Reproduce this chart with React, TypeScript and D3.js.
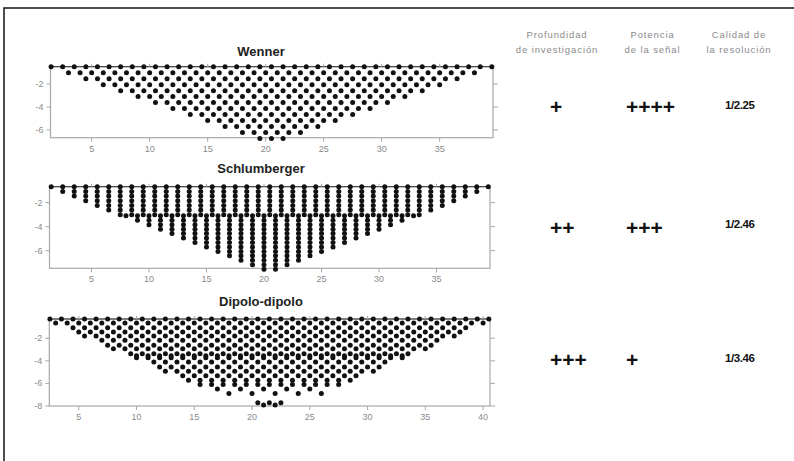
import React from "react";
import * as d3 from "d3";

// ---- Data ----
// Each level: [depth, first x, last x, step]
const wennerLevels: number[][] = [
  [-0.5, 1.5, 39.5, 1],
  [-1.02, 3.0, 38.0, 1],
  [-1.54, 4.5, 36.5, 1],
  [-2.06, 6.0, 35.0, 1],
  [-2.58, 7.5, 33.5, 1],
  [-3.1, 9.0, 32.0, 1],
  [-3.62, 10.5, 30.5, 1],
  [-4.14, 12.0, 29.0, 1],
  [-4.66, 13.5, 27.5, 1],
  [-5.18, 15.0, 26.0, 1],
  [-5.7, 16.5, 24.5, 1],
  [-6.22, 18.0, 23.0, 1],
  [-6.74, 19.5, 21.5, 1],
];

const schlumbergerShallow: number[][] = [
  [-0.67, 1.5, 39.5, 1],
  [-1.06, 2.5, 38.5, 1],
  [-1.45, 3.5, 37.5, 1],
  [-1.84, 4.5, 36.5, 1],
  [-2.23, 5.5, 35.5, 1],
  [-2.62, 6.5, 34.5, 1],
  [-3.01, 7.5, 33.5, 1],
];

const schlumbergerDeep: number[][] = [
  [-3.1, 8, 33, 1],
  [-3.47, 9, 32, 1],
  [-3.84, 10, 31, 1],
  [-4.21, 11, 30, 1],
  [-4.58, 12, 29, 1],
  [-4.95, 13, 28, 1],
  [-5.32, 14, 27, 1],
  [-5.69, 15, 26, 1],
  [-6.06, 16, 25, 1],
  [-6.43, 17, 24, 1],
  [-6.8, 18, 23, 1],
  [-7.17, 19, 22, 1],
  [-7.54, 20, 21, 1],
];

const dipoleLevels: number[][] = [
  [-0.3, 2.5, 40.5, 1],
  [-0.66, 3, 40, 1],
  [-1.07, 4.5, 38.5, 1],
  [-1.45, 5, 38, 1],
  [-1.81, 5.5, 37.5, 1],
  [-2.19, 7, 36, 1],
  [-2.63, 7.5, 35.5, 1],
  [-2.93, 8, 35, 1],
  [-3.37, 9.5, 33.5, 1],
  [-3.55, 10, 33, 1],
  [-3.74, 10, 33, 1],
  [-4.1, 11.5, 31.5, 1],
  [-4.54, 12, 31, 1],
  [-4.92, 12.5, 30.5, 1],
  [-5.33, 14, 29, 1],
  [-5.71, 14.5, 28.5, 1],
  [-6.1, 15.5, 27.5, 1],
  [-6.5, 17, 25, 2],
  [-6.89, 18, 26, 2],
  [-7.72, 20.5, 22.5, 1],
  [-7.92, 21, 22, 1],
];

const xTicksWS = [5, 10, 15, 20, 25, 30, 35];
const xTicksD = [5, 10, 15, 20, 25, 30, 35, 40];
const yTicksWS = [-2, -4, -6];
const yTicksD = [-2, -4, -6, -8];

const headers = [
  ["Profundidad", "de investigación"],
  ["Potencia", "de la señal"],
  ["Calidad de", "la resolución"],
];
const depthRatings = ["+", "++", "+++"];
const signalRatings = ["++++", "+++", "+"];
const resolution = ["1/2.25", "1/2.46", "1/3.46"];

const FONT = "Liberation Sans, Arial, Helvetica, sans-serif";

type PanelProps = {
  title: string;
  titleY: number;
  x0: number;
  x1: number;
  y0: number;
  y1: number;
  xDomain: [number, number];
  yDomain: [number, number];
  xTicks: number[];
  yTicks: number[];
  levels: number[][];
  r: number;
};

function expand(levels: number[][]) {
  return levels.flatMap(([depth, a, b, step]) =>
    d3.range(a, b + 1e-6, step).map((x) => ({ x, y: depth }))
  );
}

function Panel(p: PanelProps) {
  const x = d3.scaleLinear().domain(p.xDomain).range([p.x0, p.x1]);
  const y = d3.scaleLinear().domain(p.yDomain).range([p.y0, p.y1]);
  const pts = expand(p.levels);
  const frame = "#a8a8a8";
  const lab = "#8a8a8a";
  return (
    <g>
      <text
        x={261}
        y={p.titleY}
        textAnchor="middle"
        fontFamily={FONT}
        fontWeight="bold"
        fontSize={13}
        fill="#222"
      >
        {p.title}
      </text>
      <rect
        x={p.x0}
        y={p.y0}
        width={p.x1 - p.x0}
        height={p.y1 - p.y0}
        fill="none"
        stroke={frame}
        strokeWidth={1.2}
      />
      <line x1={p.x0} x2={p.x1} y1={p.y0} y2={p.y0} stroke="#333" strokeWidth={1} />
      {p.xTicks.map((t) => (
        <g key={"x" + t}>
          <line x1={x(t)} x2={x(t)} y1={p.y1} y2={p.y1 + 4} stroke={frame} />
          <line x1={x(t)} x2={x(t)} y1={p.y0} y2={p.y0 - 3} stroke={frame} />
          <text
            x={x(t)}
            y={p.y1 + 14}
            textAnchor="middle"
            fontFamily={FONT}
            fontSize={9}
            fill={lab}
          >
            {t}
          </text>
        </g>
      ))}
      {p.yTicks.map((t) => (
        <g key={"y" + t}>
          <line x1={p.x0 - 4} x2={p.x0} y1={y(t)} y2={y(t)} stroke={frame} />
          <line x1={p.x1} x2={p.x1 + 5} y1={y(t)} y2={y(t)} stroke={frame} />
          <text
            x={p.x0 - 7}
            y={y(t) + 3}
            textAnchor="end"
            fontFamily={FONT}
            fontSize={9}
            fill={lab}
          >
            {t}
          </text>
        </g>
      ))}
      {pts.map((d, i) => (
        <circle key={i} cx={x(d.x)} cy={y(d.y)} r={p.r} fill="#111" />
      ))}
    </g>
  );
}

export default function App() {
  const colLeft = [550, 626, 725];
  const colCenter = [557, 652.5, 739];
  const rowPlusBase = [114, 235, 366.8];
  const rowNumBase = [108.5, 228.3, 361.5];
  return (
    <svg
      width={794}
      height={461}
      style={{ position: "absolute", left: 0, top: 0, background: "#fff" }}
    >
      <rect x={0} y={0} width={794} height={461} fill="#fff" />
      <rect x={4} y={8} width={900} height={600} fill="none" stroke="#222" strokeWidth={1.6} />

      <Panel
        title="Wenner"
        titleY={55.5}
        x0={50.5}
        x1={493}
        y0={66.7}
        y1={137.7}
        xDomain={[1.45, 39.6]}
        yDomain={[-0.5, -6.67]}
        xTicks={xTicksWS}
        yTicks={yTicksWS}
        levels={wennerLevels}
        r={2.5}
      />
      <Panel
        title="Schlumberger"
        titleY={173}
        x0={49.5}
        x1={490}
        y0={186.7}
        y1={268.3}
        xDomain={[1.35, 39.65]}
        yDomain={[-0.67, -7.47]}
        xTicks={xTicksWS}
        yTicks={yTicksWS}
        levels={[...schlumbergerShallow, ...schlumbergerDeep]}
        r={2.5}
      />
      <Panel
        title="Dipolo-dipolo"
        titleY={306.3}
        x0={49.3}
        x1={490}
        y0={319}
        y1={406}
        xDomain={[2.45, 40.6]}
        yDomain={[-0.3, -8.0]}
        xTicks={xTicksD}
        yTicks={yTicksD}
        levels={dipoleLevels}
        r={2.5}
      />

      {headers.map((h, i) => (
        <g key={"h" + i}>
          {h.map((line, j) => (
            <text
              key={j}
              x={colCenter[i]}
              y={38.3 + j * 15}
              textAnchor="middle"
              fontFamily={FONT}
              fontSize={9.5}
              letterSpacing={0.9}
              fill="#8a8a8a"
            >
              {line}
            </text>
          ))}
        </g>
      ))}
      {depthRatings.map((s, i) => (
        <text
          key={"d" + i}
          x={colLeft[0]}
          y={rowPlusBase[i]}
          fontFamily={FONT}
          fontWeight="bold"
          fontSize={21}
          fill="#111"
        >
          {s}
        </text>
      ))}
      {signalRatings.map((s, i) => (
        <text
          key={"s" + i}
          x={colLeft[1]}
          y={rowPlusBase[i]}
          fontFamily={FONT}
          fontWeight="bold"
          fontSize={21}
          fill="#111"
        >
          {s}
        </text>
      ))}
      {resolution.map((s, i) => (
        <text
          key={"r" + i}
          x={colLeft[2]}
          y={rowNumBase[i]}
          fontFamily={FONT}
          fontWeight="bold"
          fontSize={11.5}
          letterSpacing={-0.4}
          fill="#111"
        >
          {s}
        </text>
      ))}
    </svg>
  );
}
